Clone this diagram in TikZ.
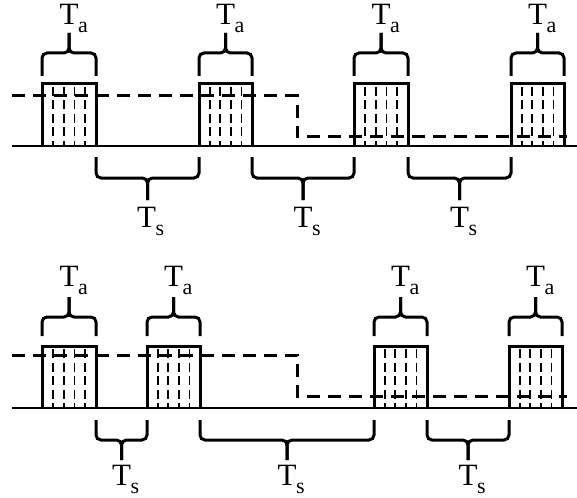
\documentclass[tikz,border=0pt]{standalone}
\usepackage{fontspec}
\setmainfont{Liberation Serif}
\newcommand\pulsebox[4]{% x1, x2, ytop, ybase
  \foreach \k in {1,2,3,4}
    \draw[inner] ({#1+(#2-#1)*\k/5},{#3+3}) -- ({#1+(#2-#1)*\k/5},#4);
  \draw[box] (#1,#4) -- (#1,#3) -- (#2,#3) -- (#2,#4);
}
\newcommand\spanbrace[5]{% x1, x2, yend, yh, ytip
  \draw[brc] (#1,#3) -- (#1,#4) -- ({(#1+#2)/2},#4) -- ({(#1+#2)/2},#5);
  \draw[brc] (#2,#3) -- (#2,#4) -- ({(#1+#2)/2},#4) -- ({(#1+#2)/2},#5);
}
\newcommand\tlab[1]{T\kern-0.5pt\raisebox{-8pt}{\fontsize{22}{22}\selectfont #1}}
\begin{document}
\begin{tikzpicture}[x=1pt,y=-1pt,
  box/.style={line width=3pt},
  baseln/.style={line width=2.5pt},
  ctrl/.style={line width=3pt, dash pattern=on 13pt off 8pt},
  inner/.style={line width=1.8pt, dash pattern=on 9pt off 4.5pt},
  brc/.style={line width=3pt, rounded corners=5pt},
  lbl/.style={anchor=base west, inner sep=0pt, font=\fontsize{31}{31}\selectfont}]
\useasboundingbox (0,0) rectangle (577,497);

% ---------- top panel ----------
\draw[ctrl] (12,96) -- (297,96) -- (297,137) -- (567,137);
\pulsebox{42}{96}{84}{146}
\pulsebox{199}{252}{84}{146}
\pulsebox{354}{408}{84}{146}
\pulsebox{511}{564}{84}{146}
\draw[baseln] (12,146) -- (577,146);

\spanbrace{42}{96}{76}{53}{33}
\spanbrace{199}{252}{76}{53}{33}
\spanbrace{354}{408}{76}{53}{33}
\spanbrace{511}{564}{76}{53}{33}
\node[lbl] (ta1) at (59.5,25) {\tlab{a}};
\node[lbl] (ta2) at (216,25) {\tlab{a}};
\node[lbl] (ta3) at (371.5,25) {\tlab{a}};
\node[lbl] (ta4) at (528,25) {\tlab{a}};

\spanbrace{96}{199}{157}{178}{200}
\spanbrace{252}{354}{157}{178}{200}
\spanbrace{408}{511}{157}{178}{200}
\node[lbl] (ts1) at (137,227) {\tlab{s}};
\node[lbl] (ts2) at (293.5,227) {\tlab{s}};
\node[lbl] (ts3) at (450,227) {\tlab{s}};

% ---------- bottom panel ----------
\draw[ctrl] (12,355) -- (297,355) -- (297,396) -- (567,396);
\pulsebox{42}{96}{346}{408}
\pulsebox{147}{200}{346}{408}
\pulsebox{374}{427}{346}{408}
\pulsebox{509}{562}{346}{408}
\draw[baseln] (12,408) -- (577,408);

\spanbrace{42}{96}{336}{317}{297}
\spanbrace{147}{200}{336}{317}{297}
\spanbrace{374}{427}{336}{317}{297}
\spanbrace{509}{562}{336}{317}{297}
\node[lbl] (tb1) at (59.5,286) {\tlab{a}};
\node[lbl] (tb2) at (164,286) {\tlab{a}};
\node[lbl] (tb3) at (391,286) {\tlab{a}};
\node[lbl] (tb4) at (526,286) {\tlab{a}};

\spanbrace{96}{147}{420}{440}{460}
\spanbrace{200}{374}{420}{440}{460}
\spanbrace{427}{509}{420}{440}{460}
\node[lbl] (tc1) at (112,485) {\tlab{s}};
\node[lbl] (tc2) at (277.5,485) {\tlab{s}};
\node[lbl] (tc3) at (458.5,485) {\tlab{s}};
\end{tikzpicture}
\end{document}
